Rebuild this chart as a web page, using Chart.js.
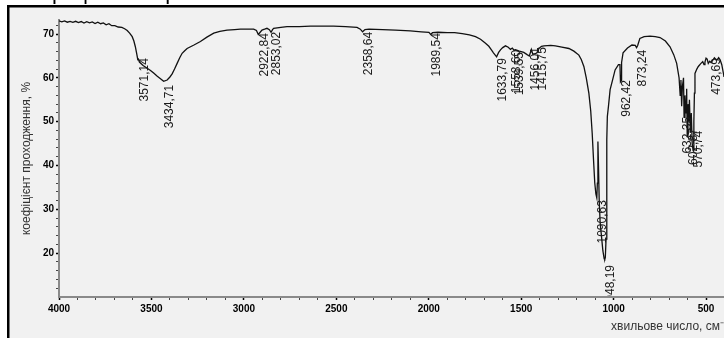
<!DOCTYPE html>
<html lang="uk">
<head>
<meta charset="utf-8">
<title>ІЧ-спектр</title>
<script src="https://cdn.jsdelivr.net/npm/chart.js"></script>
<style>
  html, body { margin: 0; padding: 0; background: #fff; overflow: hidden; }
  .box { position: relative; width: 724px; height: 338px; }
</style>
</head>
<body>
<div class="box"><canvas id="irChart"></canvas></div>
<script>
// спектр: хвильове число (см-1) і коефіцієнт проходження (%)
const waveNumbers = [
  4000, 3985, 3970, 3955, 3940, 3925, 3910, 3895, 3880, 3865, 3850, 3835, 3820, 3805, 3790, 3775,
  3760, 3745, 3730, 3715, 3698, 3680, 3660, 3645, 3631, 3618, 3604, 3595, 3587, 3580, 3574, 3571,
  3565, 3545, 3523, 3505, 3488, 3470, 3451, 3434, 3415, 3400, 3388, 3375, 3361, 3347, 3334, 3320,
  3307, 3270, 3235, 3200, 3163, 3130, 3091, 3050, 3019, 2980, 2947, 2932, 2922, 2912, 2902, 2888,
  2875, 2862, 2853, 2845, 2839, 2800, 2767, 2700, 2640, 2580, 2515, 2450, 2388, 2370, 2358, 2345,
  2323, 2250, 2180, 2100, 2040, 1999, 1989, 1980, 1950, 1900, 1860, 1819, 1780, 1747, 1720, 1693,
  1675, 1661, 1650, 1633, 1622, 1612, 1600, 1585, 1570, 1558, 1548, 1539, 1531, 1510, 1486, 1468,
  1456, 1445, 1437, 1423, 1415, 1404, 1390, 1377, 1340, 1315, 1280, 1242, 1215, 1188, 1175, 1161,
  1148, 1134, 1124, 1116, 1109, 1102, 1096, 1091, 1088, 1085, 1082, 1078, 1073, 1066, 1058, 1051,
  1048, 1045, 1041, 1038, 1036, 1034, 1028, 1019, 1010, 992, 974, 966, 963, 960, 957, 949,
  925, 901, 883, 876, 870, 858, 835, 803, 775, 749, 720, 695, 675, 659, 646, 640,
  636, 632, 628, 622, 619, 614, 608, 605, 602, 598, 594, 590, 585, 580, 575, 570,
  566, 563, 560, 550, 542, 530, 518, 511, 506, 500, 494, 488, 480, 473, 469, 455,
  442, 432, 424, 415, 406, 403
];
const transmittance = [
  73.0, 72.8, 73.0, 72.7, 72.9, 72.65, 72.9, 72.6, 72.85, 72.5, 72.8, 72.55, 72.75, 72.4, 72.7, 72.35,
  72.55, 72.1, 72.35, 71.9, 71.9, 71.6, 71.5, 71.2, 70.8, 70.2, 69.4, 68.4, 67.1, 65.6, 64.2, 64.3,
  63.6, 62.8, 62.2, 61.7, 61.1, 60.4, 59.8, 59.2, 59.5, 60.2, 60.9, 62.0, 63.3, 64.6, 65.6, 66.2,
  66.7, 67.5, 68.3, 69.3, 70.2, 70.6, 70.9, 71.0, 71.1, 71.1, 71.1, 70.8, 69.9, 70.4, 70.9, 71.1,
  71.3, 71.0, 70.4, 71.0, 71.3, 71.5, 71.7, 71.7, 71.8, 71.8, 71.8, 71.7, 71.5, 71.1, 70.5, 71.0,
  71.1, 71.0, 70.9, 70.7, 70.5, 70.4, 69.9, 70.3, 70.4, 70.3, 70.3, 70.1, 69.8, 69.4, 68.8, 67.9,
  67.2, 66.4, 65.7, 64.8, 65.8, 66.4, 66.9, 67.3, 67.0, 66.5, 66.8, 66.3, 66.4, 66.1, 65.8, 65.3,
  65.0, 66.5, 65.4, 65.5, 65.7, 66.7, 67.2, 67.3, 67.4, 67.3, 67.0, 66.7, 66.1, 65.2, 64.2, 62.6,
  60.0, 56.5, 52.5, 47.4, 41.5, 36.0, 33.5, 32.6, 36.0, 45.5, 40.0, 32.0, 27.0, 24.0, 20.5, 18.7,
  18.6, 19.0, 23.2, 33.0, 45.9, 51.2, 53.5, 57.3, 58.8, 61.8, 63.0, 63.0, 59.1, 59.3, 63.5, 65.7,
  66.8, 67.5, 67.4, 66.9, 67.4, 69.0, 69.4, 69.5, 69.4, 69.2, 68.4, 67.1, 65.3, 63.3, 60.0, 56.0,
  59.5, 53.5, 58.0, 60.0, 51.0, 56.0, 52.0, 57.5, 46.6, 54.0, 50.0, 55.0, 47.5, 52.0, 45.0, 43.4,
  50.0, 56.5, 61.0, 62.0, 62.6, 63.2, 63.7, 63.0, 63.6, 64.5, 64.3, 63.3, 63.8, 63.5, 63.7, 64.6,
  64.0, 64.6, 64.1, 63.0, 61.0, 60.2
];

// підписи піків і рівень, від якого йде підпис
const peakLabels = ['3571,14', '3434,71', '2922,84', '2853,02', '2358,64', '1989,54', '1633,79', '1558,60',
  '1539,55', '1456,01', '1415,75', '1090,63', '1048,19', '962,42', '873,24', '632,35', '602,87', '570,74', '473,69'];
const peakWaves = [3571, 3434, 2922, 2853, 2358, 1989, 1633, 1558, 1539, 1456, 1415, 1090, 1048, 962, 873, 632, 602, 570, 473];
const peakLabelAt = [64.5, 58.4, 70.2, 70.5, 70.5, 70.2, 64.5, 66.4, 65.9, 67.0, 67.0, 32.1, 17.3, 59.5, 66.4, 51.1, 48.5, 47.9, 64.5];

const xTickLabels = [4000, 3500, 3000, 2500, 2000, 1500, 1000, 500];
const yTickLabels = [20, 30, 40, 50, 60, 70];

const fontFamily = '"Liberation Sans", Arial, sans-serif';
const tickFont = { family: fontFamily, size: 10, weight: 'bold' };
const titleFont = { family: fontFamily, size: 12 };

const framePlugin = {
  id: 'frame',
  beforeDraw(chart) {
    const c = chart.ctx;
    c.save();
    c.fillStyle = '#fff';
    c.fillRect(0, 0, chart.width, chart.height);
    c.fillStyle = '#f1f1f1';
    c.fillRect(9, 7, chart.width, chart.height);
    c.strokeStyle = '#000';
    c.lineWidth = 2.5;
    c.beginPath();
    c.moveTo(8.25, chart.height + 2);
    c.lineTo(8.25, 6.25);
    c.lineTo(chart.width + 2, 6.25);
    c.stroke();
    // обрізаний рядок тексту над рисунком
    c.font = '22px ' + fontFamily;
    c.fillStyle = '#000';
    c.textAlign = 'left';
    c.textBaseline = 'alphabetic';
    c.fillText('спектрофотометрі.', -3, -1);
    c.restore();
  },
  afterDraw(chart) {
    // підпис осі x, притиснутий до правого краю
    const c = chart.ctx;
    c.save();
    c.font = '12px ' + fontFamily;
    c.fillStyle = '#333';
    c.textAlign = 'right';
    c.textBaseline = 'middle';
    c.fillText('хвильове число, см⁻¹', chart.width + 4, 327);
    c.restore();
  }
};

const peakPlugin = {
  id: 'peaks',
  afterDatasetsDraw(chart) {
    const { ctx, chartArea: a, scales: { x, y } } = chart;
    ctx.save();
    ctx.beginPath();
    ctx.rect(a.left, a.top - 15, a.right - a.left, a.bottom - a.top + 14);
    ctx.clip();
    ctx.font = '12px ' + fontFamily;
    ctx.fillStyle = '#1a1a1a';
    ctx.textAlign = 'right';
    ctx.textBaseline = 'top';
    peakLabels.forEach((txt, i) => {
      ctx.save();
      ctx.translate(x.getPixelForValue(peakWaves[i]), y.getPixelForValue(peakLabelAt[i]));
      ctx.rotate(-Math.PI / 2);
      ctx.fillText(txt, 0, 0);
      ctx.restore();
    });
    ctx.restore();
  }
};

new Chart(document.getElementById('irChart'), {
  type: 'line',
  data: {
    datasets: [{
      data: waveNumbers.map((w, i) => ({ x: w, y: transmittance[i] })),
      borderColor: '#111',
      borderWidth: 1.3,
      pointRadius: 0,
      tension: 0,
      fill: false
    }]
  },
  options: {
    responsive: true,
    maintainAspectRatio: false,
    animation: false,
    devicePixelRatio: 1,
    layout: { padding: { top: 20, right: 0, bottom: 0, left: 0 } },
    plugins: { legend: { display: false }, tooltip: { enabled: false } },
    scales: {
      x: {
        type: 'linear',
        reverse: true,
        min: 403,
        max: 4000,
        afterBuildTicks: s => {
          s.ticks = [];
          for (let v = 500; v <= 4000; v += 100) s.ticks.push({ value: v });
        },
        afterFit: s => { s.height = 41; },
        ticks: {
          autoSkip: false,
          maxRotation: 0,
          padding: 3,
          color: '#000',
          font: tickFont,
          callback: v => xTickLabels.includes(v) ? String(v) : ''
        },
        grid: {
          drawOnChartArea: false,
          drawTicks: true,
          tickLength: 3,
          tickColor: c => xTickLabels.includes(c.tick.value) ? '#000' : '#444',
          tickWidth: c => xTickLabels.includes(c.tick.value) ? 1.5 : 1
        },
        border: { display: true, color: '#8a8a8a', width: 2, z: -1 }
      },
      y: {
        min: 10,
        max: 73.2,
        afterBuildTicks: s => {
          s.ticks = [];
          for (let v = 12; v <= 72; v += 2) s.ticks.push({ value: v });
        },
        afterFit: s => { s.width = 59; },
        ticks: {
          autoSkip: false,
          padding: 2,
          color: '#000',
          font: tickFont,
          callback: v => yTickLabels.includes(v) ? String(v) : ''
        },
        grid: {
          drawOnChartArea: false,
          drawTicks: true,
          tickLength: 3,
          tickColor: c => yTickLabels.includes(c.tick.value) ? '#000' : '#444',
          tickWidth: c => yTickLabels.includes(c.tick.value) ? 1.5 : 1
        },
        border: { display: true, color: '#8a8a8a', width: 2, z: -1 },
        title: {
          display: true,
          text: 'коефіцієнт проходження, %',
          color: '#333',
          font: titleFont,
          padding: { top: 19.8, bottom: 0 }
        }
      }
    }
  },
  plugins: [framePlugin, peakPlugin]
});
</script>
</body>
</html>
